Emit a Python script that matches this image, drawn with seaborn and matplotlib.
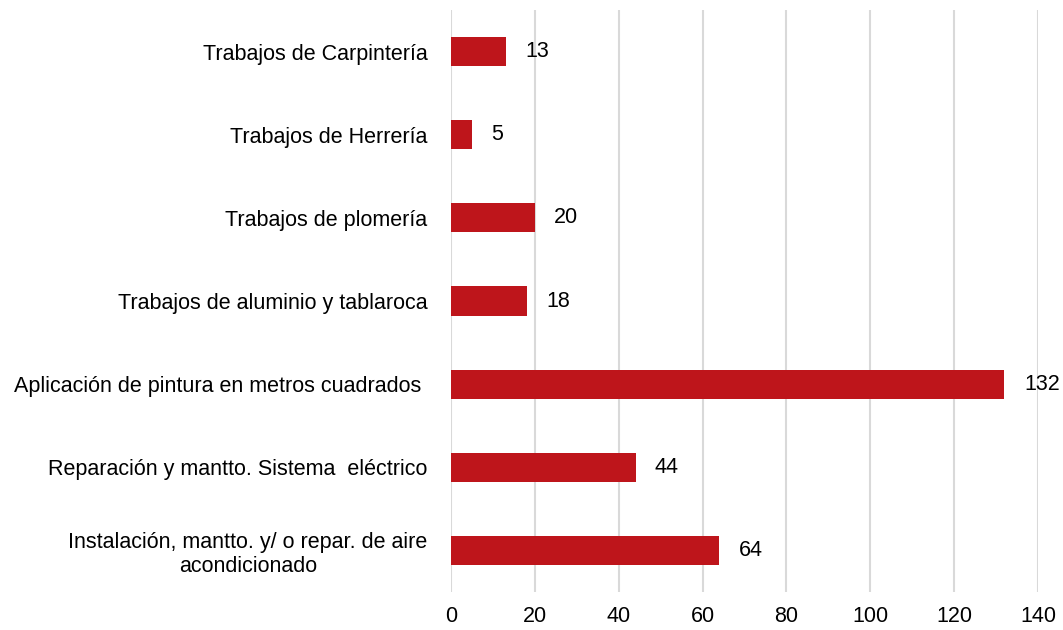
import pandas as pd
import seaborn as sns
import matplotlib.pyplot as plt

# Data (top to bottom as shown)
categorias = [
    'Trabajos de Carpintería',
    'Trabajos de Herrería',
    'Trabajos de plomería',
    'Trabajos de aluminio y tablaroca',
    'Aplicación de pintura en metros cuadrados ',
    'Reparación y mantto. Sistema  eléctrico',
    'Instalación, mantto. y/ o repar. de aire\nacondicionado',
]
valores = [13, 5, 20, 18, 132, 44, 64]
ticks_x = [0, 20, 40, 60, 80, 100, 120, 140]

df = pd.DataFrame({'categoria': categorias, 'valor': valores})

sns.set_style('white')
plt.rcParams['font.family'] = ['Liberation Sans', 'DejaVu Sans']

fig = plt.figure(figsize=(10.63, 6.3), dpi=100)
ax = fig.add_axes([0.4243, 0.0603, 0.5522, 0.9237])

sns.barplot(data=df, x='valor', y='categoria', orient='h', color='#BE151B',
            saturation=1, width=0.35, linewidth=0, ax=ax)

ax.set_xlim(0, 140)
ax.set_xticks(ticks_x)
ax.set_ylim(6.5, -0.5)
ax.xaxis.grid(True, color='#D9D9D9', linewidth=1.5)
ax.set_axisbelow(True)
for s in ax.spines.values():
    s.set_visible(False)
ax.set_xlabel('')
ax.set_ylabel('')
ax.tick_params(axis='both', length=0, labelsize=15.5, colors='black')
ax.tick_params(axis='y', pad=17)
ax.tick_params(axis='x', pad=10)

for lbl in ax.get_yticklabels():
    lbl.set_multialignment('center')

ax.bar_label(ax.containers[0], padding=14, fontsize=15.5, color='black')

plt.savefig('out.png', dpi=100)
